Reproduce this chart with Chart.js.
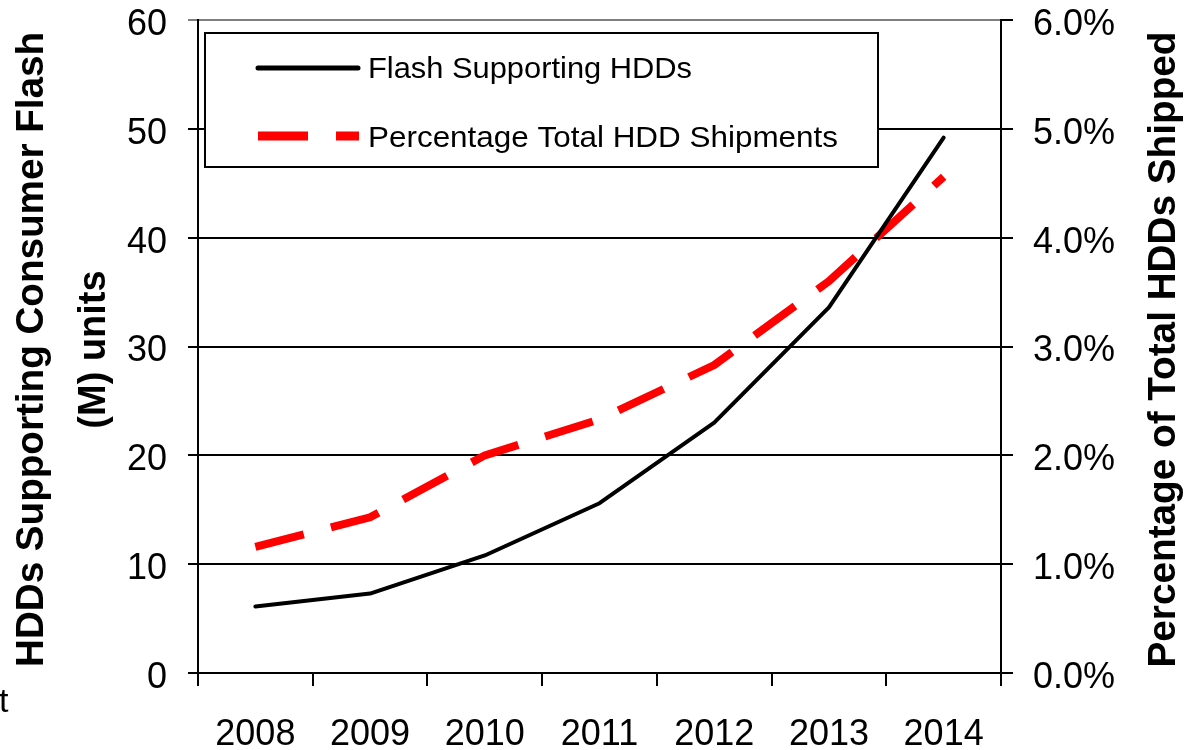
<!DOCTYPE html>
<html>
<head>
<meta charset="utf-8">
<script src="https://cdn.jsdelivr.net/npm/chart.js@4"></script>
<style>
  html, body { margin: 0; padding: 0; background: #fff; }
  #wrap { width: 1196px; height: 750px; position: relative; }
</style>
</head>
<body>
<div id="wrap"><canvas id="hddChart"></canvas></div>
<script>
// Chart data
const years = ['2008', '2009', '2010', '2011', '2012', '2013', '2014'];
const flashHdds = [6.1, 7.3, 10.8, 15.6, 23.0, 33.6, 49.2];      // M units, left axis
const pctShipments = [1.16, 1.43, 2.0, 2.33, 2.83, 3.6, 4.56];   // percent, right axis
const leftTicks = [0, 10, 20, 30, 40, 50, 60];
const rightTicks = [0, 1, 2, 3, 4, 5, 6];
const seriesNames = ['Flash Supporting HDDs', 'Percentage Total HDD Shipments'];
const leftTitle = ['HDDs Supporting Consumer Flash', '(M) units'];
const rightTitle = 'Percentage of Total HDDs Shipped';
const strayText = 't';

const FONT = '"Liberation Sans", Arial, sans-serif';

// rotated (-90deg) bold title, baseline at x, centred on cy
function drawVertical(ctx, text, baseX, cy, length) {
    ctx.save();
    ctx.font = 'bold 38px ' + FONT;
    const w = ctx.measureText(text).width;
    ctx.translate(baseX, cy);
    ctx.rotate(-Math.PI / 2);
    if (length) ctx.scale(length / w, 1);
    ctx.textAlign = 'center';
    ctx.textBaseline = 'alphabetic';
    ctx.fillStyle = '#000';
    ctx.fillText(text, 0, 0);
    ctx.restore();
}

// legend text squeezed/stretched to the width it has in the original
function drawFitted(ctx, text, x, y, length) {
    ctx.save();
    const w = ctx.measureText(text).width;
    ctx.translate(x, y);
    ctx.scale(length / w, 1);
    ctx.fillText(text, 0, 0);
    ctx.restore();
}

const decorPlugin = {
    id: 'decor',
    afterDraw: function(chart) {
        const ctx = chart.ctx;
        const cy = (chart.chartArea.top + chart.chartArea.bottom) / 2 + 3;

        drawVertical(ctx, leftTitle[0], 43, cy, 635);
        drawVertical(ctx, leftTitle[1], 105, cy);
        drawVertical(ctx, rightTitle, 1175, cy, 636);

        // legend box
        ctx.save();
        ctx.fillStyle = '#fff';
        ctx.fillRect(205, 33, 673, 134);
        ctx.strokeStyle = '#000';
        ctx.lineWidth = 2;
        ctx.strokeRect(205, 33, 673, 134);

        const ds = chart.data.datasets;
        ctx.lineCap = 'round';
        ctx.strokeStyle = ds[0].borderColor;
        ctx.lineWidth = 5;
        ctx.beginPath();
        ctx.moveTo(258, 68);
        ctx.lineTo(358, 68);
        ctx.stroke();

        ctx.lineCap = 'butt';
        ctx.strokeStyle = ds[1].borderColor;
        ctx.lineWidth = 9;
        ctx.setLineDash(ds[1].borderDash);
        ctx.beginPath();
        ctx.moveTo(258, 136);
        ctx.lineTo(359, 136);
        ctx.stroke();
        ctx.setLineDash([]);

        ctx.fillStyle = '#000';
        ctx.font = '30px ' + FONT;
        ctx.textBaseline = 'alphabetic';
        ctx.textAlign = 'left';
        drawFitted(ctx, ds[0].label, 368, 78, 324);
        drawFitted(ctx, ds[1].label, 368, 147, 470);

        ctx.font = '34px ' + FONT;
        ctx.fillText(strayText, -1, 712);
        ctx.restore();
    }
};

const ctx = document.getElementById('hddChart').getContext('2d');

new Chart(ctx, {
    type: 'line',
    data: {
        labels: years,
        datasets: [{
            label: seriesNames[0],
            data: flashHdds,
            yAxisID: 'y',
            borderColor: '#000000',
            borderWidth: 4,
            borderCapStyle: 'round',
            borderJoinStyle: 'round',
            pointRadius: 0,
            tension: 0,
            fill: false
        }, {
            label: seriesNames[1],
            data: pctShipments,
            yAxisID: 'y1',
            borderColor: '#ff0000',
            borderWidth: 8,
            borderDash: [50, 28],
            borderCapStyle: 'butt',
            borderJoinStyle: 'miter',
            pointRadius: 0,
            tension: 0,
            fill: false
        }]
    },
    options: {
        responsive: true,
        maintainAspectRatio: false,
        animation: false,
        layout: { padding: { top: 20, left: 0, right: 0, bottom: 0 } },
        plugins: {
            legend: { display: false },
            tooltip: { enabled: false }
        },
        scales: {
            x: {
                type: 'category',
                offset: true,
                grid: {
                    offset: true,
                    drawOnChartArea: false,
                    color: '#000',
                    lineWidth: 2,
                    tickLength: 13
                },
                border: { color: '#000', width: 2 },
                ticks: {
                    color: '#000',
                    font: { family: FONT, size: 36 },
                    padding: 27,
                    maxRotation: 0,
                    autoSkip: false
                },
                afterFit: function(scale) {
                    scale.height = 77;
                    scale.paddingLeft = 0;
                    scale.paddingRight = 0;
                }
            },
            y: {
                position: 'left',
                min: 0,
                max: 60,
                afterBuildTicks: function(scale) {
                    scale.ticks = leftTicks.map(v => ({ value: v }));
                },
                grid: {
                    color: c => (c.tick && c.tick.value === 60) ? '#7f7f7f' : '#000',
                    lineWidth: 2,
                    tickLength: 10
                },
                border: { color: '#000', width: 2 },
                ticks: {
                    color: '#000',
                    font: { family: FONT, size: 36 },
                    padding: 21,
                    labelOffset: 5
                },
                afterFit: function(scale) {
                    scale.width = 198;
                    scale.paddingTop = 0;
                    scale.paddingBottom = 0;
                }
            },
            y1: {
                position: 'right',
                min: 0,
                max: 6,
                afterBuildTicks: function(scale) {
                    scale.ticks = rightTicks.map(v => ({ value: v }));
                },
                grid: {
                    drawOnChartArea: false,
                    color: '#000',
                    lineWidth: 2,
                    tickLength: 12
                },
                border: { color: '#000', width: 2 },
                ticks: {
                    color: '#000',
                    font: { family: FONT, size: 36 },
                    padding: 20,
                    labelOffset: 5,
                    callback: v => v.toFixed(1) + '%'
                },
                afterFit: function(scale) {
                    scale.width = 195;
                    scale.paddingTop = 0;
                    scale.paddingBottom = 0;
                }
            }
        }
    },
    plugins: [decorPlugin]
});
</script>
</body>
</html>
